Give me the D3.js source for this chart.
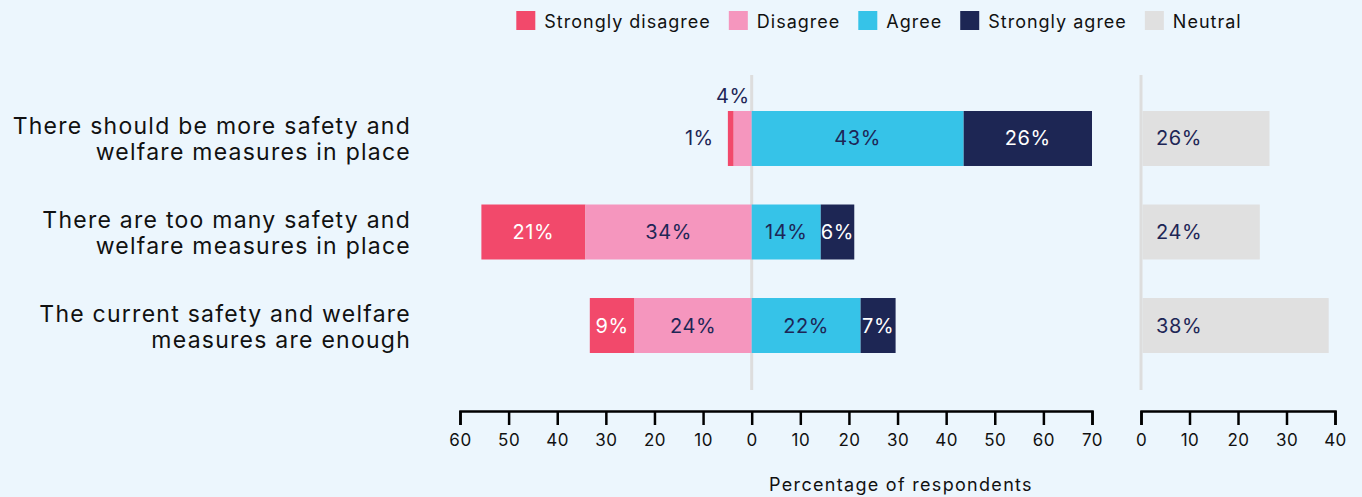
<!doctype html>
<html>
<head>
<meta charset="utf-8">
<script src="https://d3js.org/d3.v7.min.js"></script>
<style>
  body { margin: 0; background: #ecf6fd; }
  svg { display: block; font-family: Inter, "Open Sans", sans-serif; }
</style>
</head>
<body>
<div id="chart"></div>
<script>
// data
var categories = [
  "There should be more safety and|welfare measures in place",
  "There are too many safety and|welfare measures in place",
  "The current safety and welfare|measures are enough"
];
var stronglyDisagree = [1.2, 21.4, 9.2];
var disagree = [3.7, 34.2, 24.1];
var agree = [43.6, 14.2, 22.4];
var stronglyAgree = [26.4, 6.9, 7.2];
var neutral = [26.5, 24.5, 38.7];
// printed labels
var sdLabels = ["1%", "21%", "9%"];
var dLabels = ["4%", "34%", "24%"];
var aLabels = ["43%", "14%", "22%"];
var saLabels = ["26%", "6%", "7%"];
var nLabels = ["26%", "24%", "38%"];
var mainTicks = [-60, -50, -40, -30, -20, -10, 0, 10, 20, 30, 40, 50, 60, 70];
var neutralTicks = [0, 10, 20, 30, 40];
var legendNames = ["Strongly disagree", "Disagree", "Agree", "Strongly agree", "Neutral"];

var colors = {
  sd: "#f2496b",
  d: "#f596be",
  a: "#36c3e8",
  sa: "#1d2654",
  n: "#e0e0e0"
};
var navy = "#1e2656";

var W = 1362, H = 497;
var svg = d3.select("#chart").append("svg").attr("width", W).attr("height", H);

var x = d3.scaleLinear().domain([-60, 70]).range([460, 1092]);
var xn = d3.scaleLinear().domain([0, 40]).range([1141, 1335]);
var y = d3.scaleBand().domain(categories).range([64.25, 399.75]).paddingInner(0.412).paddingOuter(0.5);
var bh = y.bandwidth();

// zero line + neutral panel line
svg.append("line").attr("x1", x(0)).attr("x2", x(0)).attr("y1", 75).attr("y2", 390)
  .attr("stroke", "#dddddd").attr("stroke-width", 3);
svg.append("line").attr("x1", xn(0)).attr("x2", xn(0)).attr("y1", 75).attr("y2", 390)
  .attr("stroke", "#dddddd").attr("stroke-width", 3);

// build segments
var segs = [];
categories.forEach(function(c, i) {
  var l1 = -disagree[i], l2 = l1 - stronglyDisagree[i];
  var r1 = agree[i], r2 = r1 + stronglyAgree[i];
  segs.push({cat: c, k: "sd", x0: l2, x1: l1, label: sdLabels[i]});
  segs.push({cat: c, k: "d", x0: l1, x1: 0, label: dLabels[i]});
  segs.push({cat: c, k: "a", x0: 0, x1: r1, label: aLabels[i]});
  segs.push({cat: c, k: "sa", x0: r1, x1: r2, label: saLabels[i]});
});

svg.append("g").selectAll("rect").data(segs).join("rect")
  .attr("x", function(d) { return x(d.x0); })
  .attr("width", function(d) { return x(d.x1) - x(d.x0); })
  .attr("y", function(d) { return y(d.cat); })
  .attr("height", bh)
  .attr("fill", function(d) { return colors[d.k]; });

// segment labels
svg.append("g").selectAll("text").data(segs).join("text")
  .attr("font-size", 20)
  .attr("letter-spacing", 0.6)
  .attr("dominant-baseline", "central")
  .each(function(d) {
    var w = x(d.x1) - x(d.x0);
    var t = d3.select(this).text(d.label);
    var cy = y(d.cat) + bh / 2;
    if (w >= 30) {
      t.attr("x", (x(d.x0) + x(d.x1)) / 2).attr("y", cy).attr("text-anchor", "middle")
        .attr("fill", (d.k == "sd" || d.k == "sa") ? "#ffffff" : navy);
    } else if (d.k == "sd") {
      // tiny segment: label to the left
      t.attr("x", x(d.x0) - 14).attr("y", cy).attr("text-anchor", "end").attr("fill", navy);
    } else {
      // tiny segment: label above
      t.attr("x", x(0) - 2).attr("y", y(d.cat) - 15).attr("text-anchor", "end").attr("fill", navy);
    }
  });

// neutral bars
svg.append("g").selectAll("rect").data(categories).join("rect")
  .attr("x", xn(0) + 1.5)
  .attr("width", function(d, i) { return xn(neutral[i]) - xn(0) - 1.5; })
  .attr("y", function(d) { return y(d); })
  .attr("height", bh)
  .attr("fill", colors.n);

svg.append("g").selectAll("text").data(categories).join("text")
  .attr("x", xn(0) + 15)
  .attr("y", function(d) { return y(d) + bh / 2; })
  .attr("dominant-baseline", "central")
  .attr("font-size", 20)
  .attr("letter-spacing", 0.6)
  .attr("fill", navy)
  .text(function(d, i) { return nLabels[i]; });

// category labels, one text per line
var catLines = [];
categories.forEach(function(c) {
  c.split("|").forEach(function(s, j) { catLines.push({cat: c, line: j, text: s}); });
});
svg.append("g").selectAll("text").data(catLines).join("text")
  .attr("x", 411)
  .attr("y", function(d) { return y(d.cat) + bh / 2 + (d.line == 0 ? -12 : 14); })
  .attr("dominant-baseline", "central")
  .attr("text-anchor", "end")
  .attr("font-size", 23)
  .attr("letter-spacing", 1.25)
  .attr("fill", "#111111")
  .text(function(d) { return d.text; });

// axes
function styleAxis(g) {
  g.select(".domain").attr("stroke", "#000").attr("stroke-width", 2.5);
  g.selectAll(".tick line").attr("stroke", "#000").attr("stroke-width", 2.5);
  g.selectAll(".tick text").attr("font-size", 17).attr("fill", "#111")
    .attr("letter-spacing", 0.5)
    .attr("font-family", "Inter, 'Open Sans', sans-serif");
}
svg.append("g").attr("transform", "translate(0,411)")
  .call(d3.axisBottom(x).tickValues(mainTicks).tickSize(14).tickSizeOuter(14).tickPadding(9)
    .tickFormat(function(d) { return Math.abs(d); }))
  .call(styleAxis);
svg.append("g").attr("transform", "translate(0,411)")
  .call(d3.axisBottom(xn).tickValues(neutralTicks).tickSize(14).tickSizeOuter(14).tickPadding(9))
  .call(styleAxis);

svg.append("text").attr("x", 901).attr("y", 484).attr("text-anchor", "middle")
  .attr("dominant-baseline", "central").attr("font-size", 18).attr("letter-spacing", 1.3)
  .attr("fill", "#111")
  .text("Percentage of respondents");

// legend
var legKeys = ["sd", "d", "a", "sa", "n"];
var leg = svg.append("g");
var items = leg.selectAll("g").data(legendNames).join("g");
items.append("rect").attr("width", 19).attr("height", 19).attr("y", 11)
  .attr("fill", function(d, i) { return colors[legKeys[i]]; });
items.append("text").attr("x", 28).attr("y", 21).attr("dominant-baseline", "central")
  .attr("font-size", 18).attr("letter-spacing", 1.0)
  .attr("fill", "#111").text(function(d) { return d; });
var cx = 0;
items.each(function() {
  var g = d3.select(this);
  g.attr("transform", "translate(" + cx + ",0)");
  cx += 28 + g.select("text").node().getComputedTextLength() + 18;
});
cx -= 18;
leg.attr("transform", "translate(" + (879 - cx / 2) + ",0)");
</script>
</body>
</html>
